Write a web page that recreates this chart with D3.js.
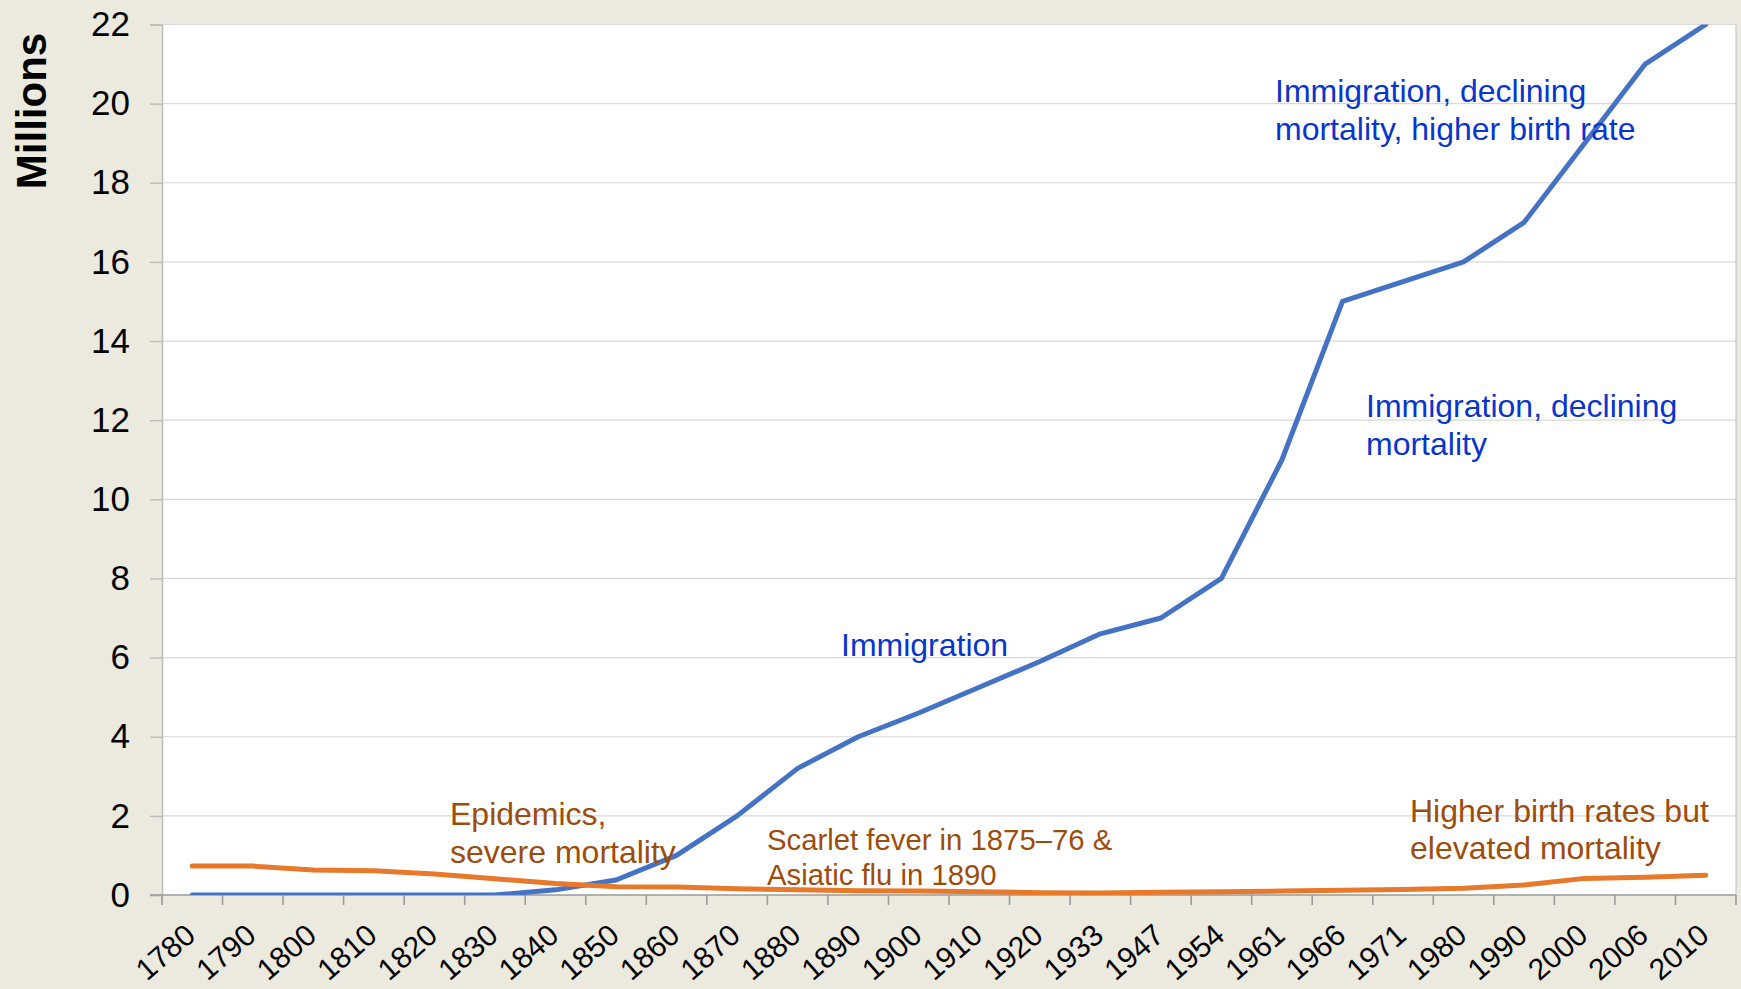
<!DOCTYPE html>
<html>
<head>
<meta charset="utf-8">
<script src="https://cdn.jsdelivr.net/npm/d3@7"></script>
<style>
  html, body { margin: 0; padding: 0; background: #eceadf; }
  svg { display: block; }
  text { font-family: "Liberation Sans", Arial, sans-serif; }
</style>
</head>
<body>
<svg id="chart" width="1741" height="989"></svg>
<script>
// Census years on the category axis
const years = ["1780","1790","1800","1810","1820","1830","1840","1850","1860","1870",
               "1880","1890","1900","1910","1920","1933","1947","1954","1961","1966",
               "1971","1980","1990","2000","2006","2010"];

// Settler / immigrant population, millions
const settlerPopulation = [0, 0, 0, 0, 0, 0, 0.13, 0.38, 1.0, 2.0,
                           3.2, 4.0, 4.6, 5.25, 5.9, 6.6, 7.0, 8.0, 11.0, 15.0,
                           15.5, 16.0, 17.0, 19.0, 21.0, 22.0];

// Indigenous population, millions
const indigenousPopulation = [0.73, 0.73, 0.63, 0.61, 0.53, 0.41, 0.29, 0.21, 0.2, 0.16,
                              0.13, 0.11, 0.1, 0.08, 0.06, 0.05, 0.07, 0.08, 0.1, 0.12,
                              0.14, 0.17, 0.25, 0.42, 0.45, 0.5];

// Value axis ticks, millions
const yTicks = [0, 2, 4, 6, 8, 10, 12, 14, 16, 18, 20, 22];

const svg = d3.select("#chart");
const plot = { left: 162, top: 24.5, right: 1736, bottom: 895 };

const x = d3.scaleBand().domain(years).range([plot.left, plot.right]).padding(0);
const y = d3.scaleLinear().domain([0, 22]).range([plot.bottom, plot.top]);
const cx = d => x(d) + x.bandwidth() / 2;

// Plot background
svg.append("rect")
  .attr("x", plot.left).attr("y", plot.top)
  .attr("width", plot.right - plot.left).attr("height", plot.bottom - plot.top)
  .attr("fill", "#ffffff");

// Horizontal gridlines
svg.append("g")
  .selectAll("line")
  .data(yTicks.filter(v => v > 0))
  .join("line")
  .attr("x1", plot.left).attr("x2", plot.right)
  .attr("y1", d => y(d)).attr("y2", d => y(d))
  .attr("stroke", "#d9d9d9").attr("stroke-width", 1.2);

// Right border of the plot area
svg.append("line")
  .attr("x1", plot.right).attr("x2", plot.right)
  .attr("y1", plot.top).attr("y2", plot.bottom)
  .attr("stroke", "#c8c8c8").attr("stroke-width", 1.2);

// Y axis
const yAxis = svg.append("g")
  .attr("transform", `translate(${plot.left},0)`)
  .call(d3.axisLeft(y).tickValues(yTicks).tickSize(12).tickPadding(20).tickFormat(d3.format("d")));
yAxis.select(".domain").attr("stroke", "#bdbdbd").attr("stroke-width", 1.5);
yAxis.selectAll(".tick line").attr("stroke", "#bdbdbd").attr("stroke-width", 1.5);
yAxis.selectAll(".tick text")
  .attr("font-size", 35).attr("fill", "#000")
  .attr("font-family", "Liberation Sans, Arial, sans-serif");

// X axis: baseline with ticks at category boundaries
const xAxis = svg.append("g");
xAxis.append("line")
  .attr("x1", plot.left - 12).attr("x2", plot.right)
  .attr("y1", plot.bottom).attr("y2", plot.bottom)
  .attr("stroke", "#9a9a9a").attr("stroke-width", 1.6);
const boundaries = years.map(d => x(d)).concat([plot.right]);
xAxis.selectAll("line.xt")
  .data(boundaries)
  .join("line")
  .attr("class", "xt")
  .attr("x1", d => d).attr("x2", d => d)
  .attr("y1", plot.bottom).attr("y2", plot.bottom + 10)
  .attr("stroke", "#9a9a9a").attr("stroke-width", 1.6);
xAxis.selectAll("text")
  .data(years)
  .join("text")
  .attr("transform", d => `translate(${cx(d) + 5},${plot.bottom + 43}) rotate(-41)`)
  .attr("text-anchor", "end")
  .attr("font-size", 30)
  .attr("fill", "#000")
  .text(d => d);

// Axis title
svg.append("text")
  .attr("transform", `translate(46,${(30 + 192) / 2}) rotate(-90)`)
  .attr("text-anchor", "middle")
  .attr("font-size", 42)
  .attr("font-weight", "bold")
  .attr("fill", "#000")
  .text("Millions");

// Series lines, clipped to the plot area
svg.append("clipPath").attr("id", "plotClip")
  .append("rect")
  .attr("x", plot.left).attr("y", plot.top)
  .attr("width", plot.right - plot.left).attr("height", plot.bottom - plot.top);

const line = d3.line().x(d => cx(d.year)).y(d => y(d.value));
const series = [
  { values: settlerPopulation, color: "#4472c4" },
  { values: indigenousPopulation, color: "#e8782a" }
];
svg.append("g").attr("clip-path", "url(#plotClip)")
  .selectAll("path")
  .data(series)
  .join("path")
  .attr("d", s => line(years.map((yr, i) => ({ year: yr, value: s.values[i] }))))
  .attr("fill", "none")
  .attr("stroke", s => s.color)
  .attr("stroke-width", 5)
  .attr("stroke-linejoin", "round")
  .attr("stroke-linecap", "round");

// Annotations
const blueText = "#0836cc", brownText = "#9e4c0c";
const notes = [
  { lines: ["Immigration, declining", "mortality, higher birth rate"], x: 1275, y: 102, color: blueText, size: 32, lh: 37.5 },
  { lines: ["Immigration, declining", "mortality"], x: 1366, y: 417, color: blueText, size: 32, lh: 37.5 },
  { lines: ["Immigration"], x: 841, y: 656, color: blueText, size: 32, lh: 37.5 },
  { lines: ["Epidemics,", "severe mortality"], x: 450, y: 825, color: brownText, size: 32, lh: 37.5 },
  { lines: ["Scarlet fever in 1875\u201376 &", "Asiatic flu in 1890"], x: 767, y: 850, color: brownText, size: 29.3, lh: 35 },
  { lines: ["Higher birth rates but", "elevated mortality"], x: 1410, y: 822, color: brownText, size: 32, lh: 37 }
];
notes.forEach(n => {
  const t = svg.append("text")
    .attr("x", n.x).attr("y", n.y)
    .attr("font-size", n.size)
    .attr("fill", n.color);
  n.lines.forEach((s, i) => {
    t.append("tspan").attr("x", n.x).attr("y", n.y + i * n.lh).text(s);
  });
});
</script>
</body>
</html>
